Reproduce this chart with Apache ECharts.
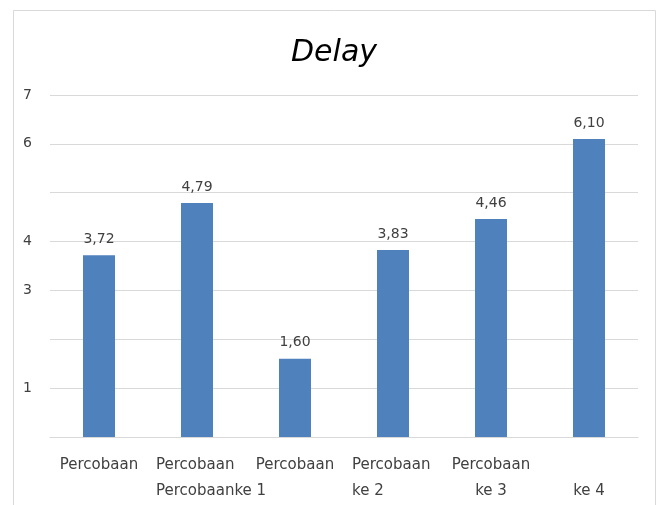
<!DOCTYPE html>
<html>
<head>
<meta charset="utf-8">
<script src="https://cdn.jsdelivr.net/npm/echarts@6/dist/echarts.min.js"></script>
<style>
  html, body { margin: 0; padding: 0; background: #ffffff; }
  #chart { width: 660px; height: 505px; }
</style>
</head>
<body>
<div id="chart"></div>
<script>
// Delay per trial
const categories = ['P1', 'P2', 'P3', 'P4', 'P5', 'P6'];
const tickLines = [
  ['Percobaan'],
  ['Percobaan', 'Percobaanke 1'],
  ['Percobaan'],
  ['Percobaan', 'ke 2'],
  ['Percobaan', 'ke 3'],
  ['', 'ke 4']
];
// which tick labels keep their second line flush with the first
const leftAligned = [false, true, false, true, false, false];
const delayValues = [3.72, 4.79, 1.60, 3.83, 4.46, 6.10];
const shownYTicks = [1, 3, 4, 6, 7];

const FONT = 'DejaVu Sans';
const chart = echarts.init(document.getElementById('chart'), null, { renderer: 'canvas' });

chart.setOption({
  animation: false,
  backgroundColor: '#ffffff',
  title: {
    text: 'Delay',
    left: 329,
    textAlign: 'center',
    top: 33,
    textStyle: { fontFamily: FONT, fontStyle: 'italic', fontWeight: 'normal', fontSize: 30, color: '#000000' }
  },
  graphic: [{
    type: 'rect',
    shape: { x: 13.5, y: 10.5, width: 642, height: 520 },
    style: { fill: 'none', stroke: '#d9d9d9', lineWidth: 1 },
    silent: true
  }],
  grid: { left: 50, right: 22, top: 95, bottom: 68, containLabel: false },
  xAxis: {
    type: 'category',
    data: categories,
    axisLine: { show: true, lineStyle: { color: '#d9d9d9' } },
    axisTick: { show: false },
    axisLabel: {
      interval: 0,
      margin: 15,
      fontFamily: FONT,
      fontSize: 15,
      color: '#404040',
      lineHeight: 26,
      verticalAlign: 'top',
      formatter: function (value, idx) {
        const lines = tickLines[idx];
        if (leftAligned[idx]) {
          return lines.map(l => '{l|' + l + '}').join('\n');
        }
        return lines.join('\n');
      },
      rich: {
        l: { width: 82, align: 'left', fontFamily: FONT, fontSize: 15, color: '#404040', lineHeight: 26 }
      }
    }
  },
  yAxis: {
    type: 'value',
    min: 0,
    max: 7,
    interval: 1,
    axisLine: { show: false },
    axisTick: { show: false },
    splitLine: { lineStyle: { color: '#d9d9d9', width: 1 } },
    axisLabel: {
      margin: 18,
      fontFamily: FONT,
      fontSize: 14,
      color: '#404040',
      formatter: function (v) { return shownYTicks.indexOf(v) >= 0 ? String(v) : ''; }
    }
  },
  series: [{
    type: 'bar',
    data: delayValues,
    barWidth: 32,
    itemStyle: { color: '#4f81bd' },
    label: {
      show: true,
      position: 'top',
      distance: 9,
      fontFamily: FONT,
      fontSize: 14,
      color: '#404040',
      formatter: function (p) { return p.value.toFixed(2).replace('.', ','); }
    }
  }]
});
</script>
</body>
</html>
